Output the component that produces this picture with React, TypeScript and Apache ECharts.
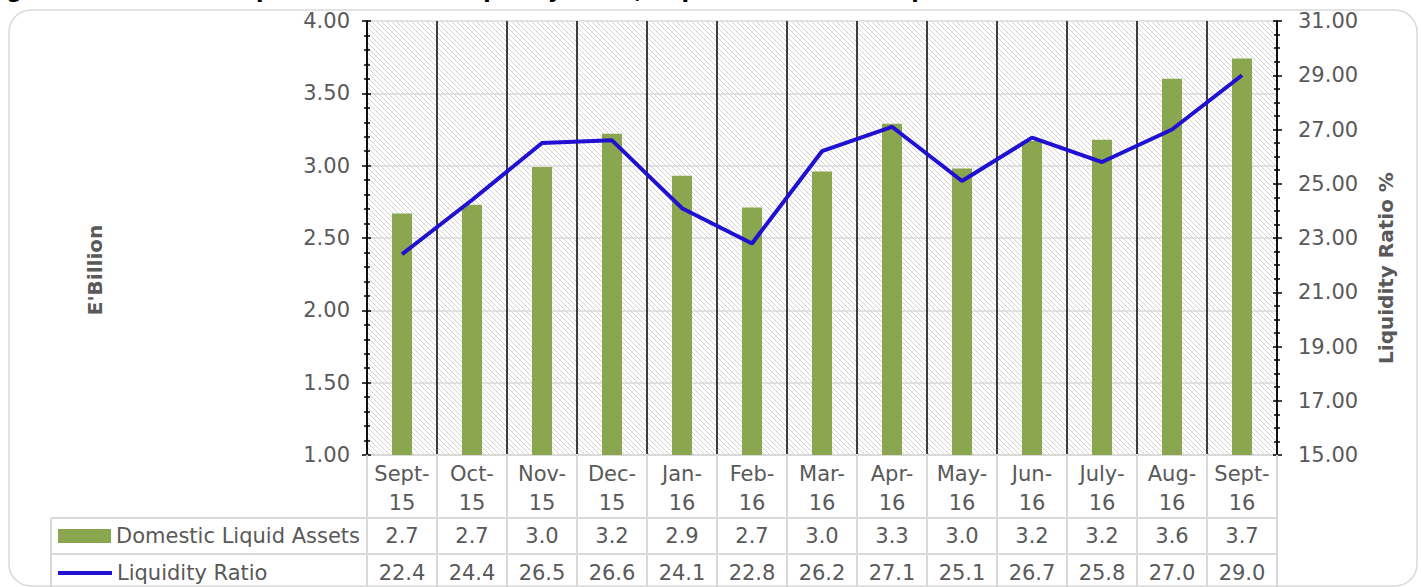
import React, { useEffect, useRef } from "react";
import * as echarts from "echarts";

const titleText =
  "Figure 5: Domestic Liquid Assets and Liquidity Ratio, September 2015 - September 2016";
const categories = [
  "Sept-15", "Oct-15", "Nov-15", "Dec-15", "Jan-16", "Feb-16", "Mar-16",
  "Apr-16", "May-16", "Jun-16", "July-16", "Aug-16", "Sept-16",
];
const domesticLiquidAssets = [2.67, 2.73, 2.99, 3.22, 2.93, 2.71, 2.96, 3.29, 2.98, 3.17, 3.18, 3.6, 3.74];
const liquidityRatio = [22.4, 24.4, 26.5, 26.6, 24.1, 22.8, 26.2, 27.1, 25.1, 26.7, 25.8, 27.0, 29.0];
const seriesNames = ["Domestic Liquid Assets", "Liquidity Ratio"];
const axisNames = ["E'Billion", "Liquidity Ratio %"];
const leftAxis = { min: 1, max: 4, interval: 0.5, minorSplit: 5 };
const rightAxis = { min: 15, max: 31, interval: 2, minorSplit: 4 };

const FONT = "DejaVu Sans";
const GRAY_TEXT = "#595959";
const GRID_GRAY = "#d9d9d9";

export default function App() {
  const ref = useRef<HTMLDivElement>(null);
  useEffect(() => {
    document.body.style.margin = "0";
    const el = ref.current as HTMLDivElement;
    const chart = echarts.init(el, null, { renderer: "svg" });

    const tile = document.createElement("canvas");
    tile.width = 5;
    tile.height = 5;
    const ctx = tile.getContext("2d") as CanvasRenderingContext2D;
    ctx.fillStyle = "#ffffff";
    ctx.fillRect(0, 0, 5, 5);
    ctx.strokeStyle = "#d2d2d2";
    ctx.lineWidth = 1;
    ctx.beginPath();
    ctx.moveTo(-1, -1);
    ctx.lineTo(6, 6);
    ctx.moveTo(-1, 4);
    ctx.lineTo(1, 6);
    ctx.moveTo(4, -1);
    ctx.lineTo(6, 1);
    ctx.stroke();

    const gridLeft = 367;
    const gridTop = 21;
    const gridWidth = 910;
    const gridHeight = 434;

    const baseY = (cfg: any, pos: "left" | "right") => ({
      type: "value",
      position: pos,
      min: cfg.min,
      max: cfg.max,
      interval: cfg.interval,
    });

    const option: any = {
      animation: false,
      textStyle: { fontFamily: FONT },
      grid: {
        left: gridLeft,
        top: gridTop,
        width: gridWidth,
        height: gridHeight,
        show: true,
        borderWidth: 0,
        backgroundColor: { image: tile, repeat: "repeat" },
      },
      legend: [
        {
          data: [seriesNames[0]],
          left: 58,
          top: 524,
          padding: 0,
          icon: "rect",
          itemWidth: 53,
          itemHeight: 14,
          selectedMode: false,
          textStyle: { fontFamily: FONT, fontSize: 21, color: GRAY_TEXT, lineHeight: 24 },
        },
        {
          data: [seriesNames[1]],
          left: 58,
          top: 561,
          padding: 0,
          icon: "rect",
          itemWidth: 54,
          itemHeight: 4,
          selectedMode: false,
          textStyle: { fontFamily: FONT, fontSize: 21, color: GRAY_TEXT, lineHeight: 24 },
        },
      ],
      xAxis: [
        {
          type: "category",
          data: categories,
          position: "bottom",
          axisLine: { show: true, lineStyle: { color: GRID_GRAY, width: 2 } },
          axisTick: { show: true, length: 132, lineStyle: { color: GRID_GRAY, width: 2 } },
          splitLine: { show: true, interval: 0, lineStyle: { color: "#000", width: 1.5 } },
          axisLabel: {
            interval: 0,
            margin: 4,
            fontFamily: FONT,
            fontSize: 21,
            lineHeight: 29,
            color: GRAY_TEXT,
            formatter: (v: string) => v.replace("-", "-\n"),
          },
        },
        {
          type: "category",
          data: domesticLiquidAssets.map((v) => v.toFixed(1)),
          position: "bottom",
          offset: 69,
          axisLine: { show: false },
          axisTick: { show: false },
          axisLabel: { interval: 0, margin: 0, fontFamily: FONT, fontSize: 21, lineHeight: 24, color: GRAY_TEXT },
        },
        {
          type: "category",
          data: liquidityRatio.map((v) => v.toFixed(1)),
          position: "bottom",
          offset: 106,
          axisLine: { show: false },
          axisTick: { show: false },
          axisLabel: { interval: 0, margin: 0, fontFamily: FONT, fontSize: 21, lineHeight: 24, color: GRAY_TEXT },
        },
      ],
      yAxis: [
        {
          ...baseY(leftAxis, "left"),
          axisLine: { show: true, lineStyle: { color: "#000", width: 1.5 } },
          axisTick: { show: true, length: 5, lineStyle: { color: "#000", width: 1.5 } },
          minorTick: { show: true, splitNumber: leftAxis.minorSplit, length: 3, lineStyle: { color: "#000", width: 1.5 } },
          splitLine: { show: true, lineStyle: { color: GRID_GRAY, width: 1.5 } },
          axisLabel: {
            margin: 17,
            fontFamily: FONT,
            fontSize: 21,
            color: GRAY_TEXT,
            formatter: (v: number) => v.toFixed(2),
          },
        },
        {
          ...baseY(rightAxis, "right"),
          axisLine: { show: true, lineStyle: { color: "#000", width: 1.5 } },
          axisTick: { show: true, length: 5, lineStyle: { color: "#000", width: 1.5 } },
          minorTick: { show: true, splitNumber: rightAxis.minorSplit, length: 3, lineStyle: { color: "#000", width: 1.5 } },
          splitLine: { show: false },
          axisLabel: {
            margin: 21,
            fontFamily: FONT,
            fontSize: 21,
            color: GRAY_TEXT,
            formatter: (v: number) => v.toFixed(2),
          },
        },
        {
          ...baseY(leftAxis, "left"),
          axisLine: { show: false },
          axisLabel: { show: false },
          splitLine: { show: false },
          axisTick: { show: true, inside: true, length: 4, lineStyle: { color: "#000", width: 1.5 } },
          minorTick: { show: true, splitNumber: leftAxis.minorSplit, length: 3, lineStyle: { color: "#000", width: 1.5 } },
        },
        {
          ...baseY(rightAxis, "right"),
          axisLine: { show: false },
          axisLabel: { show: false },
          splitLine: { show: false },
          axisTick: { show: true, inside: true, length: 4, lineStyle: { color: "#000", width: 1.5 } },
          minorTick: { show: true, splitNumber: rightAxis.minorSplit, length: 3, lineStyle: { color: "#000", width: 1.5 } },
        },
      ],
      series: [
        {
          name: seriesNames[0],
          type: "bar",
          xAxisIndex: 0,
          yAxisIndex: 0,
          data: domesticLiquidAssets,
          barWidth: 20,
          itemStyle: { color: "#8aa64e" },
          z: 3,
        },
        {
          name: seriesNames[1],
          type: "line",
          xAxisIndex: 0,
          yAxisIndex: 1,
          data: liquidityRatio,
          showSymbol: false,
          symbol: "none",
          color: "#1f10d2",
          itemStyle: { color: "#1f10d2" },
          lineStyle: { color: "#1f10d2", width: 4 },
          z: 5,
        },
      ],
      graphic: [
        {
          type: "rect",
          silent: true,
          z: -1,
          shape: { x: 9, y: 10, width: 1408, height: 576, r: 22 },
          style: { fill: "none", stroke: GRID_GRAY, lineWidth: 1.5 },
        },
        {
          type: "text",
          silent: true,
          x: -16,
          y: -10,
          style: { text: titleText, font: `bold 22px "${FONT}"`, fill: "#000", verticalAlign: "middle", align: "left" },
        },
        {
          type: "text",
          silent: true,
          x: 95,
          y: 270,
          rotation: Math.PI / 2,
          style: { text: axisNames[0], font: `bold 20px "${FONT}"`, fill: GRAY_TEXT, align: "center", verticalAlign: "middle" },
        },
        {
          type: "text",
          silent: true,
          x: 1386,
          y: 268,
          rotation: Math.PI / 2,
          style: { text: axisNames[1], font: `bold 20px "${FONT}"`, fill: GRAY_TEXT, align: "center", verticalAlign: "middle" },
        },
        {
          type: "line",
          silent: true,
          shape: { x1: 51, y1: 518, x2: gridLeft + gridWidth, y2: 518 },
          style: { stroke: GRID_GRAY, lineWidth: 2 },
        },
        {
          type: "line",
          silent: true,
          shape: { x1: 51, y1: 554, x2: gridLeft + gridWidth, y2: 554 },
          style: { stroke: GRID_GRAY, lineWidth: 2 },
        },
        {
          type: "line",
          silent: true,
          shape: { x1: 51, y1: 518, x2: 51, y2: 600 },
          style: { stroke: GRID_GRAY, lineWidth: 2 },
        },
      ],
    };
    chart.setOption(option);
    return () => chart.dispose();
  }, []);
  return <div ref={ref} style={{ width: 1421, height: 587 }} />;
}
